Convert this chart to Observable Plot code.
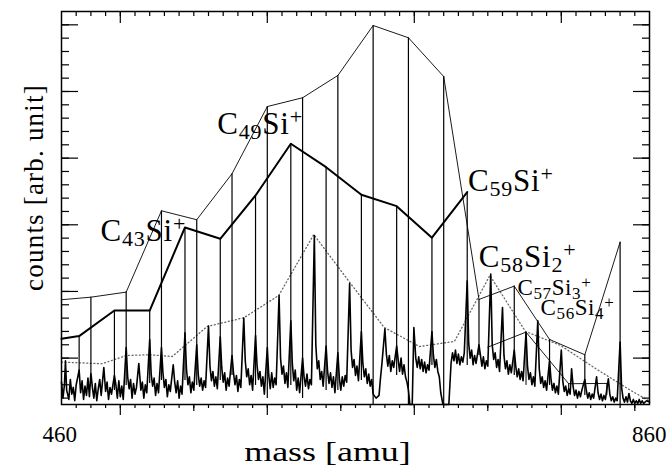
<!DOCTYPE html>
<html><head><meta charset="utf-8">
<script src="https://cdn.jsdelivr.net/npm/d3@7"></script>
<script src="https://cdn.jsdelivr.net/npm/@observablehq/plot@0.6"></script>
<style>html,body{margin:0;padding:0;background:#fff;}</style>
</head><body><div id="chart"></div>
<script>
// ---------- data (mass in amu, counts in arb. units) ----------
// C_2n envelope (thin) with sticks
const thinMass   = [460, 480, 504, 528, 552, 576, 600, 624, 648, 672, 696, 720, 744, 768, 792, 816, 840];
const thinCounts = [9.38, 9.57, 9.95, 16.05, 15.38, 18.83, 23.87, 24.53, 26.2, 29.95, 29.03, 26.12, 9.4, 10.4, 6.4, 5.25, 13.7];
const thinBase   = [null, 3.92, 2.95, 3.32, 2.95, 3.7, 1.97, 1.97, 2.57, 1.52, 1.52, 1.52, 5.2, 3.7, 2.95, 2.2, 1.52];
// C_nSi+ envelope (thick) with sticks
const siMass   = [460, 472, 496, 520, 544, 568, 592, 616, 640, 664, 688, 712, 736];
const siCounts = [6.45, 6.65, 8.57, 8.57, 14.8, 13.95, 17.2, 21.08, 19.32, 17.25, 16.4, 14.03, 17.45];
const siBase   = [null, 3.7, 2.57, 3.1, 3.32, 3.32, 2.95, 2.95, 2.57, 3.32, 3.7, 4.45, 4.45];
// second thin envelope on the right
const si2Mass   = [750, 776, 805, 831];
const si2Counts = [5.82, 6.95, 3.08, 3.1];
const si2Base   = [null, 2.95, 2.4, 2.2];
// dotted envelope
const dotMass   = [460, 487.7, 504.2, 519.9, 535.3, 559.1, 584.1, 607.8, 631.6, 655.6, 679.5, 703.5, 727.3, 751.4, 775.6, 799.5, 823.3, 847.1, 859.3];
const dotCounts = [4.7, 4.58, 5.2, 5.25, 5.12, 7.37, 8.03, 9.7, 14.27, 10.75, 7.3, 5.87, 6.25, 11.2, 7.0, 5.95, 4.22, 2.58, 1.82];
// measured spectrum
const specMass = [
460,461,462,462.7,463.5,465,466,467,468,469,
470,472,473,474,475,476,477,478,479,480,
481,482,483,484,485,486,487,488.8,490,491,
492,493,494,496,497,498,499,500,501,502,
504,505,506,507,508,509,510,511,512.6,514,
515,516,517,518,520,521,522,523,524,525,
526,528,529,530,531,532,533,534,536,537,
538,539,540,541,542,544,545,546,547,548,
549,550,552,553,554,555,556,557,558,560,
561,562,563,564,565,566,568,569,570,571,
572,573,574,576,577,578,579,580,581,582,
584,585,586,587,588,589,590,592,593,594,
595,596,597,598,600,601,602,603,604,605,
606,608,609,610,611,612,613,614,616,617,
618,619,620,621,622,624,625,626,627,628,
629,630,632,633,634,635,636,637,638,640,
641,642,643,644,645,646,648,649,650,651,
652,653,654,656,657,658,659,660,661,662,
664,665,666,667,668,669,670,671,672,674,
676,677,678,680,681,682,683,684,685,686,
688,689,690,691,692,693,694,695,696,697,
698.6,699.7,701,702,703,704,705,706,707,708,
709,710,712,713,714,715,716,717,718,719.5,
723.5,725,726,727,728,729,730,731,732,733,
734,736,737,738,739,740,741,742,744,745,
746,747,748,749,750,752,753,754,755,756,
757,758,760,761,762,763,764,765,766,768,
769,770,771,772,773,774,776,777,778,779,
780,781,782,784,785,786,787,788,789,790,
792,793,794,795,796,797,798,800,801,802,
803,804,805,806,807,808,809,810,811,812,
813,814,816,817,818,819,820,821,822,824,
825,826,827,828,829,830,832,833,834,835,
836,837,838,840,841,842,843,844,845,846,
847,848,849,850,851,852,853,854,855,856,
858,860];
const specCounts = [
3.2,2.0,3.0,4.8,2.6,1.9,3.4,2.3,2.8,1.8,
3.0,4.1,2.4,3.3,1.9,2.9,2.2,3.5,2.1,3.9,
2.8,2.0,3.1,1.8,2.7,3.4,2.2,4.3,2.5,3.2,
1.9,2.8,2.3,3.7,3.0,2.0,3.3,2.1,2.9,1.9,
5.8,3.6,2.7,3.4,2.0,3.1,2.3,2.8,4.6,2.6,
3.2,2.0,3.0,2.4,6.4,3.8,2.9,3.5,2.2,3.1,
2.4,5.8,3.9,2.8,3.4,2.1,3.0,2.5,4.5,3.2,
2.4,3.3,2.0,2.9,2.3,6.9,4.2,3.0,3.6,2.4,
3.2,2.6,6.0,3.8,2.9,3.5,2.6,3.3,2.8,7.4,
4.4,3.3,4.0,2.9,3.6,2.7,6.6,4.3,3.2,3.9,
2.6,3.5,2.9,5.2,3.9,3.0,3.7,2.5,3.4,2.8,
8.0,4.8,3.6,4.2,3.0,3.7,2.6,6.7,4.5,3.4,
4.0,2.9,3.6,2.3,5.8,3.7,2.7,3.9,2.8,3.5,
3.0,9.7,5.0,3.8,4.4,3.1,3.9,2.8,7.8,4.6,
3.3,4.1,2.6,3.5,2.4,5.0,3.6,2.9,3.8,2.7,
3.4,3.0,14.2,6.0,4.2,4.8,3.4,4.0,2.9,5.9,
4.0,3.1,3.9,2.8,3.6,2.4,5.4,3.5,2.6,3.6,
2.9,3.7,3.2,10.6,5.6,4.3,4.9,3.7,4.4,3.3,
7.0,4.6,3.6,4.2,3.1,3.8,2.9,3.4,2.3,2.0,
2.2,3.5,4.6,7.2,5.3,4.4,5.2,4.0,4.8,4.3,
5.9,4.9,4.0,5.0,3.8,4.5,3.6,3.2,2.6,1.52,
1.52,7.3,5.0,4.3,5.1,4.2,4.9,4.0,4.7,3.9,
4.5,4.1,7.0,5.2,4.3,4.9,4.0,3.6,2.4,1.52,
1.52,4.6,5.4,4.8,5.6,4.6,5.3,4.5,5.1,4.7,
5.4,10.8,6.1,5.0,5.6,4.5,5.2,4.6,6.0,5.2,
4.4,5.1,4.2,4.8,4.4,11.3,6.0,4.9,5.4,4.3,
4.9,4.0,8.8,5.2,4.2,4.8,3.8,4.5,3.9,5.6,
4.4,3.6,4.2,3.4,4.0,3.3,6.9,4.4,3.4,3.9,
3.0,3.6,2.9,7.8,4.2,3.1,3.6,2.8,3.3,2.6,
4.8,3.4,2.6,3.1,2.4,2.9,2.3,5.6,3.3,2.5,
2.9,2.2,2.7,2.3,4.2,2.9,2.2,2.6,2.0,2.5,
2.1,2.6,3.4,2.6,2.0,2.4,1.9,2.3,2.0,3.6,
2.4,1.9,2.3,1.8,2.2,1.9,3.45,2.3,1.8,2.1,
1.7,2.0,1.8,6.2,2.8,2.0,1.7,2.1,1.7,2.35,
1.8,1.6,1.9,1.6,1.8,1.6,1.9,1.6,1.8,1.6,
1.8,1.7];
// annotations
const bigLabels  = ["C_{43}Si^{+}", "C_{49}Si^{+}", "C_{59}Si^{+}", "C_{58}Si_{2}^{+}"];
const bigMass    = [486.5, 565.9, 736.5, 743.9];
const bigCounts  = [13.82, 21.83, 17.57, 11.87];
const smallLabels = ["C_{57}Si_{3}^{+}", "C_{56}Si_{4}^{+}"];
const smallMass   = [770.2, 785.9];
const smallCounts = [9.7, 8.2];
// axes
const xTickLabels = [460, 860];
const xMinor = d3.range(470, 860, 10);
const xMid = [550, 650, 750, 850];
const xMajor = [500, 600, 700, 800];
const yMinor = d3.range(2, 31, 1);
const yMajor = [5, 10, 15, 20, 25, 30];
const xTitle = "mass [amu]";
const yTitle = "counts [arb. unit]";

// ---------- layout ----------
const W = 669, H = 465, ML = 61, MR = 20, MT = 11, MB = 61;
const FW = W - ML - MR, FH = H - MT - MB;
const FONT = "Liberation Serif, Times New Roman, serif";
const idx = a => a.map((_, i) => i);
const sticks = (m, b) => idx(m).filter(i => b[i] != null);
const TICK = {stroke: "#000", strokeWidth: 1.2};
const TXT = {fill: "#000", fontFamily: FONT, lineAnchor: "bottom"};

const plot = Plot.plot({
  width: W, height: H,
  marginLeft: ML, marginRight: MR, marginTop: MT, marginBottom: MB,
  style: {fontFamily: FONT, background: "#fff", color: "#000"},
  x: {domain: [460, 860], axis: null},
  y: {domain: [1.52, 31.0], axis: null},
  marks: [
    Plot.line(idx(dotMass), {x: i => dotMass[i], y: i => dotCounts[i], stroke: "#666", strokeWidth: 1.3, strokeDasharray: "1,2.6"}),
    Plot.line(idx(specMass), {x: i => specMass[i], y: i => specCounts[i], stroke: "#000", strokeWidth: 1.6}),
    Plot.ruleX(sticks(thinMass, thinBase), {x: i => thinMass[i], y1: i => thinBase[i], y2: i => thinCounts[i], stroke: "#000", strokeWidth: 1.2}),
    Plot.ruleX(sticks(siMass, siBase), {x: i => siMass[i], y1: i => siBase[i], y2: i => siCounts[i], stroke: "#000", strokeWidth: 1.2}),
    Plot.ruleX(sticks(si2Mass, si2Base), {x: i => si2Mass[i], y1: i => si2Base[i], y2: i => si2Counts[i], stroke: "#000", strokeWidth: 1}),
    Plot.line(idx(thinMass), {x: i => thinMass[i], y: i => thinCounts[i], stroke: "#000", strokeWidth: 0.9}),
    Plot.line(idx(si2Mass), {x: i => si2Mass[i], y: i => si2Counts[i], stroke: "#000", strokeWidth: 0.9}),
    Plot.line(idx(siMass), {x: i => siMass[i], y: i => siCounts[i], stroke: "#000", strokeWidth: 2}),
    // top ticks (inward)
    Plot.tickX(xMinor, {x: d => d, insetBottom: FH - 5, ...TICK}),
    Plot.tickX(xMajor, {x: d => d, insetBottom: FH - 12, ...TICK}),
    // bottom ticks (outward)
    Plot.tickX(xMinor, {x: d => d, insetTop: FH, insetBottom: -4, ...TICK}),
    Plot.tickX(xMid, {x: d => d, insetTop: FH, insetBottom: -7, ...TICK}),
    Plot.tickX(xMajor, {x: d => d, insetTop: FH, insetBottom: -11, ...TICK}),
    // left / right ticks (inward)
    Plot.tickY(yMinor, {y: d => d, insetRight: FW - 8, ...TICK}),
    Plot.tickY(yMajor, {y: d => d, insetRight: FW - 17, ...TICK}),
    Plot.tickY(yMinor, {y: d => d, insetLeft: FW - 7, ...TICK}),
    Plot.tickY(yMajor, {y: d => d, insetLeft: FW - 16, ...TICK}),
    Plot.frame({stroke: "#000", strokeWidth: 1.5}),
    // tick labels and axis titles
    Plot.text([String(xTickLabels[0])], {x: [xTickLabels[0]], frameAnchor: "bottom", textAnchor: "start", dy: 37.7, dx: -19, fontSize: 23, ...TXT}),
    Plot.text([String(xTickLabels[1])], {x: [xTickLabels[1]], frameAnchor: "bottom", textAnchor: "end", dy: 37.7, dx: 17, fontSize: 23, ...TXT}),
    Plot.text([xTitle], {frameAnchor: "bottom", textAnchor: "middle", dx: -28, dy: 56, fontSize: 27, ...TXT}),
    Plot.text([yTitle], {frameAnchor: "left", textAnchor: "middle", rotate: -90, dx: -19, dy: -20.5, fontSize: 27, ...TXT}),
    // peak annotations
    Plot.text(bigLabels, {x: (d, i) => bigMass[i], y: (d, i) => bigCounts[i], text: d => d, textAnchor: "start", fontSize: 31, ...TXT}),
    Plot.text(smallLabels, {x: (d, i) => smallMass[i], y: (d, i) => smallCounts[i], text: d => d, textAnchor: "start", fontSize: 23, ...TXT})
  ]
});

document.getElementById("chart").appendChild(plot);

// ---------- text post-processing ----------
function widen(el, k) {
  const w = el.getComputedTextLength();
  if (w > 0) {
    el.setAttribute("textLength", (w * k).toFixed(1));
    el.setAttribute("lengthAdjust", "spacingAndGlyphs");
  }
}
function richify(el, mainSize, subSize, subDy, supDy) {
  const s = el.textContent;
  while (el.firstChild) el.removeChild(el.firstChild);
  const re = /([_^])\{([^}]*)\}|([^_^]+)/g;
  let m, cur = 0;
  while ((m = re.exec(s))) {
    const ts = document.createElementNS("http://www.w3.org/2000/svg", "tspan");
    let target = 0, size = mainSize, txt = m[3];
    if (m[1]) { target = m[1] === "_" ? subDy : supDy; size = subSize; txt = m[2]; }
    ts.setAttribute("dy", target - cur);
    cur = target;
    ts.setAttribute("font-size", size);
    ts.textContent = txt;
    el.appendChild(ts);
  }
}
plot.querySelectorAll("text").forEach(el => {
  const s = el.textContent;
  if (bigLabels.includes(s)) { richify(el, 31, 22, 5, -10); el.setAttribute("letter-spacing", "0.8"); }
  else if (smallLabels.includes(s)) { richify(el, 23, 17, 4, -7); el.setAttribute("letter-spacing", "0.6"); }
  else if (s === xTitle) widen(el, 1.33);
  else if (s === yTitle) el.setAttribute("letter-spacing", "1.2");
});
</script>
</body></html>
